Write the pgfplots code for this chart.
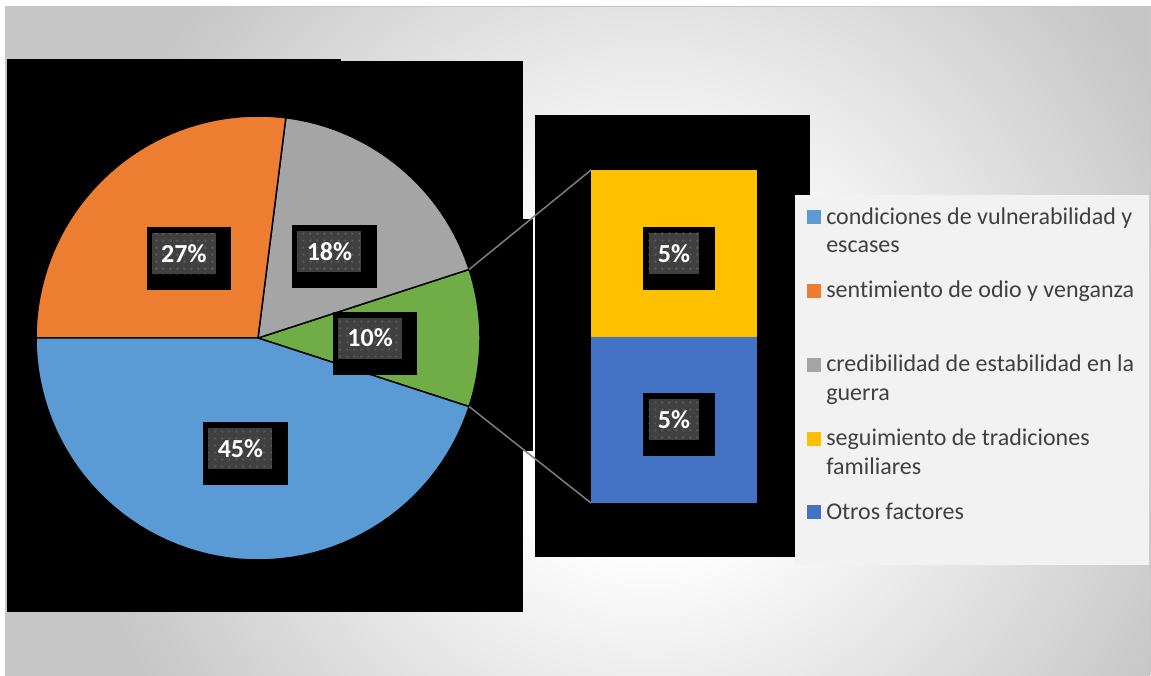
\documentclass[border=0pt]{standalone}
\usepackage{pgfplots}
\pgfplotsset{compat=1.18}
\usepackage{fontspec}
\setmainfont{Carlito}[Ligatures=NoCommon]
\usetikzlibrary{patterns.meta}

\definecolor{cblue}{HTML}{5B9BD5}
\definecolor{corange}{HTML}{ED7D31}
\definecolor{cgray}{HTML}{A5A5A5}
\definecolor{cyellow}{HTML}{FFC000}
\definecolor{cdblue}{HTML}{4472C4}
\definecolor{cgreen}{HTML}{70AD47}
\definecolor{bggray}{HTML}{C6C6C6}
\definecolor{legfill}{HTML}{F2F2F2}
\definecolor{legtext}{HTML}{404040}
\definecolor{lblfill}{HTML}{404040}
\definecolor{lbldot}{HTML}{5E5E5E}
\definecolor{conn}{HTML}{808080}

\pgfdeclareradialshading{bgshade}{\pgfpoint{0pt}{0pt}}{color(0pt)=(white); color(125pt)=(white); color(440pt)=(bggray); color(620pt)=(bggray)}

\tikzdeclarepattern{
  name=sqdots,
  type=uncolored,
  bottom left={(0pt,0pt)},
  top right={(5.5pt,5.5pt)},
  tile size={(5.5pt,5.5pt)},
  code={\fill (2pt,2pt) rectangle (3.5pt,3.5pt);}
}

\tikzset{
  lblshadow/.style={fill=black, font=\fontsize{19.5}{20}\selectfont\bfseries,
    inner xsep=14.6pt, inner ysep=0pt, minimum height=47.25pt, xshift=3.75pt, yshift=-3.75pt},
  lbl/.style={fill=lblfill, postaction={pattern=sqdots, pattern color=lbldot}, text=white,
    font=\fontsize{19.5}{20}\selectfont\bfseries, inner xsep=7pt, inner ysep=0pt, minimum height=30.75pt},
  legtxt/.style={anchor=base west, inner sep=0pt, text=legtext, font=\fontsize{18}{21}\selectfont},
  slice/.style={draw=black, line width=1.1pt, samples=60},
}
\newcommand\datalabel[2]{\node[lblshadow] at (#1) {\phantom{#2}}; \node[lbl] at (#1) {#2};}

\begin{document}
\begin{tikzpicture}[x=0.75pt,y=0.75pt]
\useasboundingbox (0,0) rectangle (1151,-675);
% background
\fill[white] (0,0) rectangle (1151,-675);
\begin{scope}
  \clip (5,-6) rectangle (1150,-675);
  \node[inner sep=0pt, outer sep=0pt] at (650,-380) {\pgfuseshading{bgshade}};
\end{scope}
\draw[color=black!22, line width=0.75pt] (5,-675) -- (5,-6) -- (1150,-6) -- (1150,-675);
% black plot areas
\fill[black] (7,-59) rectangle (341,-612);
\fill[black] (341,-61) rectangle (523,-612);
\fill[black] (523,-219) rectangle (533,-451);
\fill[black] (535,-115) rectangle (810,-557);

% pie
\begin{axis}[name=pie, at={(193.5pt,-253.5pt)}, anchor=center, scale only axis,
  width=333pt, height=333pt, xmin=-1, xmax=1, ymin=-1, ymax=1, hide axis, clip=false]
  % Otros (5 + 5 = 10)
  \addplot[slice, fill=cgreen, domain={-1.8*10}:{1.8*10}] ({cos(x)},{sin(x)}) -- (axis cs:0,0) -- cycle;
  % credibilidad 18
  \addplot[slice, fill=cgray, domain={1.8*10}:{1.8*10+3.6*18}] ({cos(x)},{sin(x)}) -- (axis cs:0,0) -- cycle;
  % sentimiento 27
  \addplot[slice, fill=corange, domain={1.8*10+3.6*18}:{1.8*10+3.6*(18+27)}] ({cos(x)},{sin(x)}) -- (axis cs:0,0) -- cycle;
  % condiciones 45
  \addplot[slice, fill=cblue, domain={1.8*10+3.6*(18+27)}:{1.8*10+3.6*(18+27+45)}] ({cos(x)},{sin(x)}) -- (axis cs:0,0) -- cycle;
  \coordinate (p1) at (axis cs:{cos(18)},{sin(18)});
  \coordinate (p2) at (axis cs:{cos(-18)},{sin(-18)});
  \coordinate (l45) at (axis cs:{0.505*cos(261)},{0.505*sin(261)});
  \coordinate (l27) at (axis cs:{0.505*cos(131.4)},{0.505*sin(131.4)});
  \coordinate (l18) at (axis cs:{0.505*cos(50.4)},{0.505*sin(50.4)});
  \coordinate (l10) at (axis cs:0.505,0);
\end{axis}

% bar of pie
\begin{axis}[name=bar, at={(443.25pt,-377.25pt)}, anchor=south west, scale only axis,
  width=124.5pt, height=249.75pt, xmin=0, xmax=1, ymin=0, ymax=10, hide axis, clip=false,
  ybar stacked, bar width=124.5pt]
  \addplot[fill=cdblue, draw=none] coordinates {(0.5,5)};
  \addplot[fill=cyellow, draw=none] coordinates {(0.5,5)};
  \coordinate (b1) at (axis cs:0,10);
  \coordinate (b2) at (axis cs:0,0);
  \coordinate (l5a) at (axis cs:0.5,2.5);
  \coordinate (l5b) at (axis cs:0.5,7.5);
\end{axis}

\draw[conn, line width=1.1pt] (p1) -- (b1);
\draw[conn, line width=1.1pt] (p2) -- (b2);

\datalabel{l45}{45\%}
\datalabel{l27}{27\%}
\datalabel{l18}{18\%}
\datalabel{l10}{10\%}
\datalabel{l5a}{5\%}
\datalabel{l5b}{5\%}

% legend
\fill[legfill] (795,-195) rectangle (1149,-565);
\fill[cblue]   (807,-224) rectangle (821,-210);
\node[legtxt] at (826,-224) {condiciones de vulnerabilidad y};
\node[legtxt] at (826,-252.5) {escases};
\fill[corange] (807,-297.7) rectangle (821,-283.7);
\node[legtxt] at (826,-297.7) {sentimiento de odio y venganza};
\fill[cgray]   (807,-371.7) rectangle (821,-357.7);
\node[legtxt] at (826,-371.7) {credibilidad de estabilidad en la};
\node[legtxt] at (826,-400) {guerra};
\fill[cyellow] (807,-445.7) rectangle (821,-431.7);
\node[legtxt] at (826,-445.7) {seguimiento de tradiciones};
\node[legtxt] at (826,-474.3) {familiares};
\fill[cdblue]  (807,-519.3) rectangle (821,-505.3);
\node[legtxt] at (826,-519.3) {Otros factores};
\end{tikzpicture}
\end{document}
